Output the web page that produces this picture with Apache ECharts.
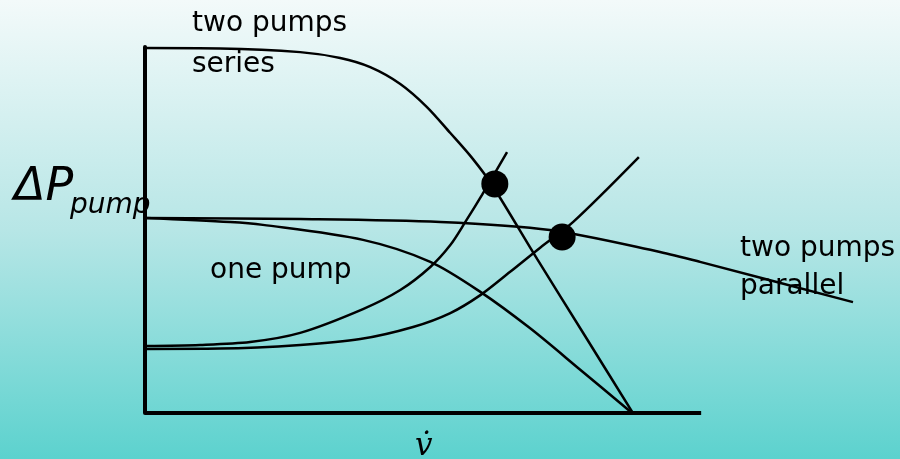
<!DOCTYPE html>
<html>
<head>
<meta charset="utf-8">
<script src="https://cdn.jsdelivr.net/npm/echarts@6/dist/echarts.min.js"></script>
<style>
  html, body { margin: 0; padding: 0; }
  #chart { width: 900px; height: 459px; }
</style>
</head>
<body>
<div id="chart"></div>
<script>
// flow (x) and pressure rise (y), arbitrary units; the drawn axis runs 0..100
const seriesPumps = [[0, 99.7], [13.5, 99.6], [27.9, 98.6], [35.1, 97.0], [40.5, 94.5], [45.9, 89.9],
    [50.7, 83.6], [54.9, 76.5], [58.8, 69.7], [62.4, 62.3], [70.5, 42.1], [79.1, 21.1], [87.6, 0.3]];
const onePump = [[0, 53.3], [15.3, 52.2], [21.2, 51.4], [39.2, 47.3], [51.3, 41.3], [60.3, 33.1],
    [69.2, 23.2], [78.2, 11.9], [87.2, 0.5]];
const parallelPumps = [[0, 53.3], [27.9, 53.0], [53.1, 52.2], [72.8, 50.0], [92.6, 44.0], [99.8, 41.3], [127.3, 30.3]];
const systemA = [[0, 18.3], [9.9, 18.6], [18.9, 19.4], [27.9, 21.9], [39.2, 28.4], [45.9, 33.6],
    [51.3, 39.9], [54.9, 45.9], [57.6, 52.2], [60.6, 59.6], [65.1, 71.3]];
const systemB = [[0, 17.5], [13.5, 17.6], [27.9, 18.6], [38.7, 20.2], [48.2, 23.5], [54.9, 27.3],
    [60.3, 32.2], [65.6, 38.5], [71.0, 45.1], [77.0, 52.2], [88.8, 69.9]];
const operatingPoints = [[62.9, 62.6], [75.0, 48.1]];
const flowAxis = [[0, 0], [100, 0]];

const chart = echarts.init(document.getElementById('chart'));

function curve(data, width) {
    return {
        type: 'line', data: data, smooth: 0.3, clip: false, symbol: 'none',
        lineStyle: { color: '#000', width: width || 2.5 }, silent: true
    };
}

const font = '"DejaVu Sans", Verdana, sans-serif';

chart.setOption({
    backgroundColor: {
        type: 'linear', x: 0, y: 0, x2: 0, y2: 1,
        colorStops: [
            { offset: 0, color: '#f3fafa' },
            { offset: 0.5, color: '#b7e6e6' },
            { offset: 1, color: '#5cd2ce' }
        ]
    },
    animation: false,
    grid: { left: 145, right: 32, top: 47, bottom: 46 },
    xAxis: {
        type: 'value', min: 0, max: 130,
        axisLine: { show: false },
        axisTick: { show: false }, axisLabel: { show: false }, splitLine: { show: false }
    },
    yAxis: {
        type: 'value', min: 0, max: 100,
        axisLine: { show: true, lineStyle: { color: '#000', width: 4 } },
        axisTick: { show: false }, axisLabel: { show: false }, splitLine: { show: false }
    },
    series: [
        curve(flowAxis, 4),
        curve(seriesPumps),
        curve(onePump),
        curve(parallelPumps),
        curve(systemA),
        curve(systemB),
        {
            type: 'scatter', data: operatingPoints, symbolSize: 27, clip: false,
            itemStyle: { color: '#000', opacity: 1 }, silent: true, z: 5
        }
    ],
    graphic: [
        { type: 'text', left: 192, top: 10, style: { text: 'two pumps', font: '28px ' + font, fill: '#000' } },
        { type: 'text', left: 192, top: 51, style: { text: 'series', font: '28px ' + font, fill: '#000' } },
        { type: 'text', left: 210, top: 257, style: { text: 'one pump', font: '28px ' + font, fill: '#000' } },
        { type: 'text', left: 740, top: 235, style: { text: 'two pumps', font: '28px ' + font, fill: '#000' } },
        { type: 'text', left: 740, top: 273, style: { text: 'parallel', font: '28px ' + font, fill: '#000' } },
        { type: 'text', left: 14, top: 165, style: { text: 'ΔP', font: 'italic 46px ' + font, fill: '#000' } },
        { type: 'text', left: 70, top: 192, style: { text: 'pump', font: 'italic 28px ' + font, fill: '#000' } },
        { type: 'text', left: 415, top: 431, style: { text: 'v\u0307', font: 'italic 31px "DejaVu Serif", "Liberation Serif", serif', fill: '#000' } }
    ]
});
</script>
</body>
</html>
